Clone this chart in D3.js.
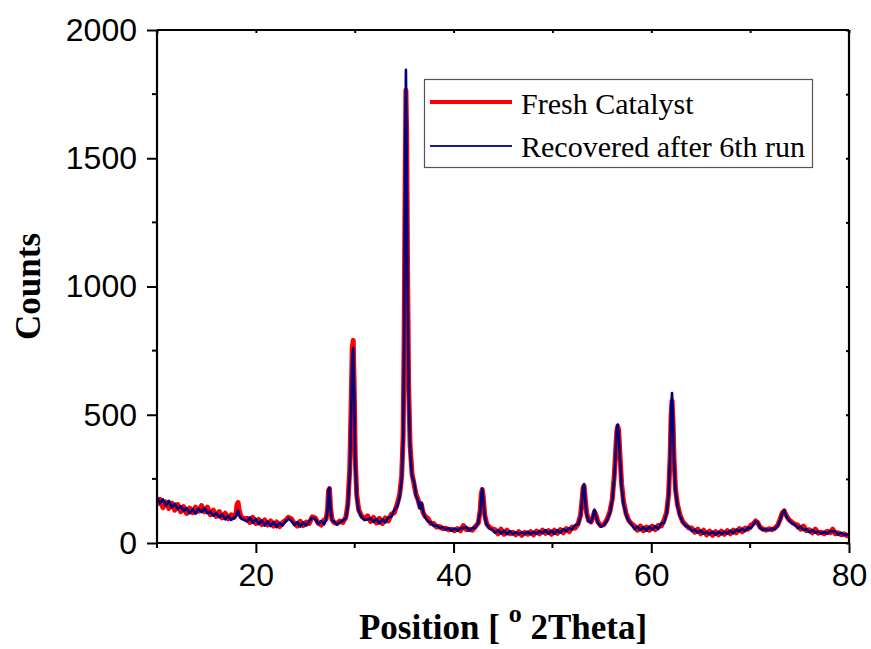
<!DOCTYPE html>
<html>
<head>
<meta charset="utf-8">
<script src="https://cdn.jsdelivr.net/npm/d3@7"></script>
<style>
  html, body { margin: 0; padding: 0; background: #fff; }
  svg { display: block; }
</style>
</head>
<body>
<svg id="chart" width="871" height="649"></svg>
<script>
// Diffraction angle (°2θ) shared by both patterns
const twoTheta = [
  10.0,10.3,10.6,10.9,11.2,11.5,11.8,12.1,12.4,12.7,13.0,13.3,13.6,13.9,14.2,14.5,14.8,15.1,15.4,15.7,16.0,16.3,16.6,16.9,17.2,17.5,
  17.8,18.0,18.1,18.2,18.3,18.5,18.8,
  19.1,19.4,19.7,20.0,20.3,20.6,20.9,21.2,21.5,21.8,22.1,22.4,22.7,23.0,23.3,23.6,23.9,24.2,24.5,24.8,25.1,25.4,25.7,26.0,26.3,26.6,26.9,
  27.1,27.25,27.35,27.45,27.55,27.7,27.9,
  28.2,28.5,28.8,29.1,29.3,29.5,29.65,29.75,29.85,29.95,30.05,30.2,30.4,30.7,31.0,
  31.3,31.6,31.9,32.2,32.5,32.8,33.1,33.4,33.7,34.0,34.3,
  34.55,34.75,34.9,35.0,35.1,35.18,35.25,35.35,35.45,35.6,35.8,36.0,36.2,36.4,36.6,36.75,36.9,37.1,
  37.4,37.7,38.0,38.3,38.6,38.9,39.2,39.5,39.8,40.1,40.4,40.7,41.0,41.3,41.6,41.9,42.2,42.5,
  42.7,42.8,42.9,43.0,43.15,43.35,43.6,43.9,
  44.2,44.5,44.8,45.1,45.4,45.7,46.0,46.3,46.6,46.9,47.2,47.5,47.8,48.1,48.4,48.7,49.0,49.3,49.6,49.9,50.2,50.5,50.8,51.1,51.4,51.7,52.0,52.3,
  52.6,52.85,53.0,53.1,53.2,53.3,53.45,53.65,53.9,54.1,54.25,54.4,54.6,54.9,55.2,55.5,55.8,56.05,56.25,56.4,56.5,56.6,56.7,56.85,57.0,57.2,57.45,57.7,58.0,
  58.3,58.6,58.9,59.2,59.5,59.8,60.1,60.4,60.7,61.0,61.3,
  61.55,61.75,61.9,62.0,62.1,62.2,62.3,62.45,62.65,62.9,63.2,63.5,63.8,
  64.1,64.4,64.7,65.0,65.3,65.6,65.9,66.2,66.5,66.8,67.1,67.4,67.7,68.0,68.3,68.6,68.9,69.2,69.5,69.8,70.1,
  70.35,70.55,70.75,71.0,71.3,71.6,71.9,72.2,72.5,72.8,73.05,73.25,73.45,73.65,73.9,74.2,74.5,
  74.8,75.1,75.4,75.7,76.0,76.3,76.6,76.9,77.2,77.5,77.8,78.1,78.35,78.6,78.9,79.2,79.5,79.8,80.0
];

// Fresh catalyst counts
const freshCounts = [
  148,170,138,160,135,155,128,150,122,142,115,136,118,140,124,146,122,140,110,128,104,122,98,116,94,110,
  100,118,150,158,130,102,95,
  96,80,100,76,92,72,90,70,86,66,82,64,80,88,100,94,76,66,84,68,82,76,102,98,78,70,90,
  92,130,205,212,140,92,80,
  76,86,80,100,150,290,560,760,790,600,340,190,130,105,95,
  106,84,100,78,96,76,98,86,112,118,152,
  190,260,420,800,1400,1765,1600,1050,620,380,270,230,190,170,140,150,120,105,
  96,76,76,62,64,56,58,52,54,48,56,48,68,52,54,50,64,78,
  130,190,208,180,110,75,62,55,
  52,36,54,34,50,36,42,32,44,30,42,34,44,32,46,36,50,38,48,34,50,38,52,40,56,44,62,58,
  75,110,170,215,222,180,120,88,82,100,122,110,82,68,72,90,120,170,260,360,430,455,440,330,230,160,115,90,75,
  66,50,66,48,62,50,66,52,68,66,90,
  120,190,330,490,555,470,330,210,150,110,82,70,58,
  58,42,54,36,50,32,46,30,44,32,46,34,48,36,50,40,56,44,58,54,70,
  76,86,80,62,54,50,56,52,58,70,95,118,125,108,92,82,74,
  70,54,66,48,52,40,54,38,42,36,46,40,54,36,40,32,36,28,30
];

// Catalyst recovered after the 6th run
const recoveredCounts = [
  178,155,170,146,164,138,154,132,144,124,136,116,132,114,134,120,136,116,122,106,116,100,112,92,106,90,
  98,104,118,126,110,96,90,
  84,100,78,94,74,88,68,84,66,82,62,78,68,84,96,86,70,82,64,80,68,86,98,94,74,86,72,
  90,125,208,215,135,88,84,
  72,80,88,96,140,270,520,720,760,580,320,180,125,100,90,
  92,96,82,94,76,92,80,100,102,128,142,
  180,250,400,780,1500,1845,1550,1000,600,360,260,240,185,165,135,158,125,100,
  84,80,66,68,58,62,52,58,48,56,48,58,58,62,48,58,60,80,
  125,185,212,176,105,72,58,52,
  40,50,36,48,34,46,34,42,34,42,34,44,34,44,36,46,38,50,36,48,36,50,40,54,46,58,52,70,
  72,105,165,218,230,175,115,85,80,105,130,105,78,64,70,86,115,165,250,350,440,462,430,320,220,150,110,86,72,
  54,64,50,62,48,64,52,66,54,76,78,
  115,185,340,520,585,480,320,200,145,105,80,66,62,
  46,52,40,48,36,44,34,44,32,44,34,44,36,48,38,52,46,56,46,60,58,
  74,84,82,60,52,54,50,56,54,68,92,115,128,104,90,78,72,
  58,64,50,54,42,50,40,44,36,44,36,46,46,46,32,40,30,34,30
];

const xMajorTicks = [20, 40, 60, 80];
const xMinorTicks = [10, 30, 50, 70];
const yMajorTicks = [0, 500, 1000, 1500, 2000];
const yMinorTicks = [250, 750, 1250, 1750];

const seriesNames = ["Fresh Catalyst", "Recovered after 6th run"];

const margin = { left: 157, right: 22, top: 30, bottom: 106 };
const W = 871, H = 649;
const innerW = W - margin.left - margin.right;
const innerH = H - margin.top - margin.bottom;

const svg = d3.select("#chart");
const x = d3.scaleLinear().domain([10, 80]).range([margin.left, margin.left + innerW]);
const y = d3.scaleLinear().domain([0, 2000]).range([margin.top + innerH, margin.top]);

svg.append("defs").append("clipPath").attr("id", "plot-clip")
  .append("rect")
  .attr("x", margin.left).attr("y", margin.top)
  .attr("width", innerW).attr("height", innerH);

const n = Math.min(twoTheta.length, freshCounts.length, recoveredCounts.length);
const idx = d3.range(n);

const line = vals => d3.line()
  .x(i => x(twoTheta[i]))
  .y(i => y(vals[i]))(idx);

const curves = svg.append("g").attr("clip-path", "url(#plot-clip)");
curves.append("path")
  .attr("d", line(freshCounts))
  .attr("fill", "none")
  .attr("stroke", "#ff0000")
  .attr("stroke-width", 5)
  .attr("stroke-linejoin", "round");
curves.append("path")
  .attr("d", line(recoveredCounts))
  .attr("fill", "none")
  .attr("stroke", "#000080")
  .attr("stroke-width", 2.6)
  .attr("stroke-linejoin", "round");

// Axes
const tickFont = "'Liberation Sans', Arial, sans-serif";

const axisBottom = svg.append("g")
  .attr("transform", `translate(0,${margin.top + innerH})`)
  .call(d3.axisBottom(x).tickValues(xMajorTicks).tickSize(10).tickPadding(10).tickFormat(d3.format("d")));
axisBottom.selectAll(".tick text").attr("font-size", 32).attr("font-family", tickFont).attr("fill", "#000");

const axisLeft = svg.append("g")
  .attr("transform", `translate(${margin.left},0)`)
  .call(d3.axisLeft(y).tickValues(yMajorTicks).tickSize(10).tickPadding(10).tickFormat(d3.format("d")));
axisLeft.selectAll(".tick text").attr("font-size", 32).attr("font-family", tickFont).attr("fill", "#000");

const axisTop = svg.append("g")
  .attr("transform", `translate(0,${margin.top})`)
  .call(d3.axisBottom(x).tickValues(xMajorTicks.concat(xMinorTicks)).tickSize(3).tickFormat(""));
const axisRight = svg.append("g")
  .attr("transform", `translate(${margin.left + innerW},0)`)
  .call(d3.axisLeft(y).tickValues(yMajorTicks.concat(yMinorTicks)).tickSize(3).tickFormat(""));

// minor ticks outside on bottom/left
svg.append("g").selectAll("line").data(xMinorTicks).join("line")
  .attr("x1", d => x(d)).attr("x2", d => x(d))
  .attr("y1", margin.top + innerH).attr("y2", margin.top + innerH + 5)
  .attr("stroke", "#000").attr("stroke-width", 2);
svg.append("g").selectAll("line").data(yMinorTicks).join("line")
  .attr("x1", margin.left - 5).attr("x2", margin.left)
  .attr("y1", d => y(d)).attr("y2", d => y(d))
  .attr("stroke", "#000").attr("stroke-width", 2);

[axisBottom, axisLeft, axisTop, axisRight].forEach(g => {
  g.select(".domain").attr("stroke", "#000").attr("stroke-width", 2.2);
  g.selectAll(".tick line").attr("stroke", "#000").attr("stroke-width", 2);
});
axisTop.select(".domain").attr("d", `M${margin.left},0H${margin.left + innerW}`);
axisRight.select(".domain").attr("d", `M0,${margin.top}V${margin.top + innerH}`);
axisBottom.select(".domain").attr("d", `M${margin.left},0H${margin.left + innerW}`);
axisLeft.select(".domain").attr("d", `M0,${margin.top}V${margin.top + innerH}`);

// Axis titles
const serif = "'Liberation Serif', 'Times New Roman', serif";
svg.append("text")
  .attr("transform", `translate(40,${(margin.top + margin.top + innerH) / 2}) rotate(-90)`)
  .attr("text-anchor", "middle")
  .attr("font-family", serif).attr("font-weight", "bold").attr("font-size", 35)
  .text("Counts");

const xt = svg.append("text")
  .attr("x", margin.left + innerW / 2).attr("y", 639)
  .attr("text-anchor", "middle")
  .attr("font-family", serif).attr("font-weight", "bold").attr("font-size", 35);
xt.append("tspan").text("Position [ ");
xt.append("tspan").attr("font-size", 26).attr("dy", -17).text("o");
xt.append("tspan").attr("dy", 17).text(" 2Theta]");

// Legend
const legend = svg.append("g");
legend.append("rect")
  .attr("x", 424.5).attr("y", 79.5).attr("width", 388).attr("height", 88)
  .attr("fill", "#fff").attr("stroke", "#555").attr("stroke-width", 1.2);
const legendRows = [
  { name: seriesNames[0], color: "#ff0000", width: 4, yy: 102, base: 114 },
  { name: seriesNames[1], color: "#1c1c90", width: 1.8, yy: 146, base: 157 }
];
legendRows.forEach(r => {
  legend.append("line")
    .attr("x1", 430).attr("x2", 512).attr("y1", r.yy).attr("y2", r.yy)
    .attr("stroke", r.color).attr("stroke-width", r.width);
  legend.append("text")
    .attr("x", 521).attr("y", r.base)
    .attr("font-family", serif).attr("font-size", 30)
    .text(r.name);
});
</script>
</body>
</html>
